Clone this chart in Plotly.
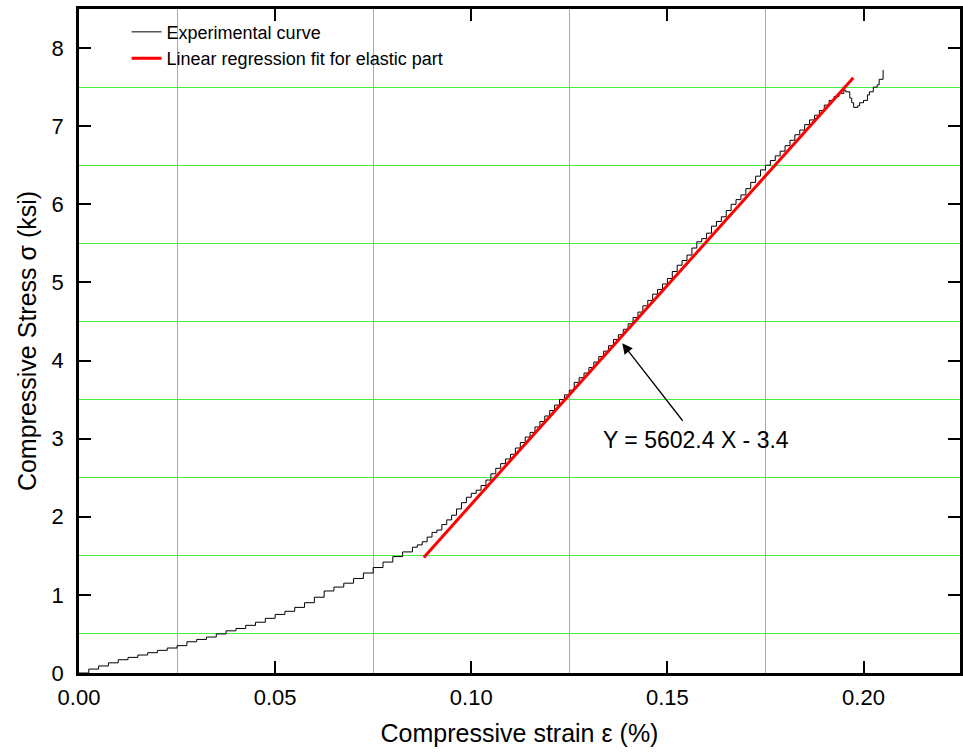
import plotly.graph_objects as go

# Experimental curve (strain in %, stress in ksi)
strain = [0.000, 0.0025, 0.005, 0.0075, 0.010, 0.0125, 0.015, 0.0175, 0.020, 0.0225,
          0.025, 0.0275, 0.030, 0.0325, 0.035, 0.0375, 0.040, 0.0425, 0.045, 0.0475,
          0.050, 0.0525, 0.055, 0.0575, 0.060, 0.0625, 0.065, 0.0675, 0.070, 0.0725,
          0.075, 0.0775, 0.080, 0.0825,
          0.0850, 0.08625, 0.0875, 0.08875, 0.0900, 0.09125, 0.0925, 0.09375, 0.0950, 0.09625,
          0.0975, 0.09875, 0.1000, 0.10125, 0.1025, 0.10375, 0.1050, 0.10625, 0.1075, 0.10875,
          0.1100, 0.11125, 0.1125, 0.11375, 0.1150, 0.11625, 0.1175, 0.11875, 0.1200, 0.12125,
          0.1225, 0.12375, 0.1250, 0.12625, 0.1275, 0.12875, 0.1300, 0.13125, 0.1325, 0.13375,
          0.1350, 0.13625, 0.1375, 0.13875, 0.1400, 0.14125, 0.1425, 0.14375, 0.1450, 0.14625,
          0.1475, 0.14875, 0.1500, 0.15125, 0.1525, 0.15375, 0.1550, 0.15625, 0.1575, 0.15875,
          0.1600, 0.16125, 0.1625, 0.16375, 0.1650, 0.16625, 0.1675, 0.16875, 0.1700, 0.17125,
          0.1725, 0.17375, 0.1750, 0.17625, 0.1775, 0.17875, 0.1800, 0.18125, 0.1825, 0.18375,
          0.1850, 0.18625, 0.1875, 0.18875, 0.1900, 0.19125, 0.1925, 0.19375, 0.1950,
          0.1955, 0.1965, 0.1970, 0.1975, 0.1985, 0.1990, 0.2000, 0.2010, 0.2015, 0.2025,
          0.2035, 0.2040, 0.2050]
stress = [0.00, 0.05, 0.09, 0.13, 0.17, 0.20, 0.23, 0.26, 0.29, 0.32,
          0.35, 0.40, 0.43, 0.46, 0.50, 0.54, 0.57, 0.61, 0.65, 0.70,
          0.75, 0.79, 0.84, 0.90, 0.97, 1.05, 1.10, 1.15, 1.21, 1.28,
          1.35, 1.42, 1.49, 1.55,
          1.61, 1.64, 1.68, 1.74, 1.80, 1.83, 1.90, 1.96, 2.02, 2.10,
          2.18, 2.25, 2.30, 2.34, 2.40, 2.47, 2.55, 2.62, 2.68, 2.74,
          2.80, 2.88, 2.95, 3.02, 3.08, 3.15, 3.22, 3.29, 3.36, 3.43,
          3.50, 3.56, 3.62, 3.72, 3.78, 3.84, 3.91, 3.98, 4.05, 4.12,
          4.19, 4.27, 4.33, 4.40, 4.47, 4.55, 4.62, 4.70, 4.77, 4.85,
          4.91, 4.98, 5.05, 5.14, 5.22, 5.28, 5.35, 5.44, 5.52, 5.56,
          5.63, 5.72, 5.78, 5.84, 5.92, 6.00, 6.06, 6.12, 6.20, 6.28,
          6.36, 6.44, 6.50, 6.56, 6.62, 6.68, 6.75, 6.82, 6.89, 6.95,
          7.02, 7.08, 7.14, 7.20, 7.27, 7.33, 7.38, 7.42, 7.46,
          7.44, 7.36, 7.30, 7.24, 7.26, 7.30, 7.33, 7.40, 7.44, 7.50,
          7.53, 7.60, 7.72]

# Linear regression fit for the elastic part (end points)
fit_strain = [0.0879, 0.1974]
fit_stress = [1.48, 7.62]

x_ticks = [0.00, 0.05, 0.10, 0.15, 0.20]
x_tick_text = ["0.00", "0.05", "0.10", "0.15", "0.20"]
x_minor = [0.025, 0.075, 0.125, 0.175]
y_ticks = [0, 1, 2, 3, 4, 5, 6, 7, 8]
y_tick_text = ["0", "1", "2", "3", "4", "5", "6", "7", "8"]
y_minor = [0.5, 1.5, 2.5, 3.5, 4.5, 5.5, 6.5, 7.5]

X_RANGE = [0, 0.2246]
Y_RANGE = [0, 8.5]

FONT = "Arial, Liberation Sans, sans-serif"
GRID = "#44ee44"

fig = go.Figure()
# empty trace so the minor-grid overlay axes are created
fig.add_trace(go.Scatter(x=[], y=[], xaxis="x2", yaxis="y2", showlegend=False))
fig.add_trace(go.Scatter(x=strain, y=stress, mode="lines", line_shape="hv",
                         line=dict(color="black", width=1),
                         name="Experimental curve"))
fig.add_trace(go.Scatter(x=fit_strain, y=fit_stress, mode="lines",
                         line=dict(color="#ff0000", width=3),
                         name="Linear regression fit for elastic part"))

axis_common = dict(showline=True, linecolor="black", linewidth=2.5, mirror="ticks",
                   ticks="inside", ticklen=12, tickwidth=2, tickcolor="black",
                   showgrid=False, zeroline=False,
                   tickfont=dict(family=FONT, size=22, color="black"))

fig.update_layout(
    xaxis=dict(range=X_RANGE, tickvals=x_ticks, ticktext=x_tick_text,
               title=dict(text="Compressive strain ε (%)",
                          font=dict(family=FONT, size=25, color="black"), standoff=16),
               ticklabelstandoff=3, **axis_common),
    yaxis=dict(range=Y_RANGE, tickvals=y_ticks, ticktext=y_tick_text,
               title=dict(text="Compressive Stress σ (ksi)",
                          font=dict(family=FONT, size=25, color="black"), standoff=8),
               ticklabelstandoff=8, **axis_common),
    xaxis2=dict(range=X_RANGE, tickvals=x_minor, overlaying="x", anchor="y2",
                side="bottom", showgrid=True, gridcolor=GRID, gridwidth=1,
                showticklabels=False, zeroline=False),
    yaxis2=dict(range=Y_RANGE, tickvals=y_minor, overlaying="y", anchor="x2",
                side="left", showgrid=True, gridcolor=GRID, gridwidth=1,
                showticklabels=False, zeroline=False),
)

fig.add_annotation(x=0.1385, y=4.22, ax=0.1542, ay=3.21, xref="x", yref="y",
                   axref="x", ayref="y", text="", showarrow=True,
                   arrowhead=2, arrowsize=1.6, arrowwidth=1.3, arrowcolor="black")
fig.add_annotation(x=0.1572, y=2.98, xref="x", yref="y", text="Y = 5602.4 X - 3.4",
                   showarrow=False, font=dict(family=FONT, size=23, color="black"))

fig.update_layout(
    width=963, height=753,
    margin=dict(l=79, r=0, t=9, b=80),
    paper_bgcolor="white", plot_bgcolor="white",
    showlegend=True,
    legend=dict(x=0.054, y=0.993, xanchor="left", yanchor="top",
                bgcolor="rgba(0,0,0,0)", borderwidth=0,
                font=dict(family=FONT, size=18, color="black")),
)

fig.write_html("out.html")
